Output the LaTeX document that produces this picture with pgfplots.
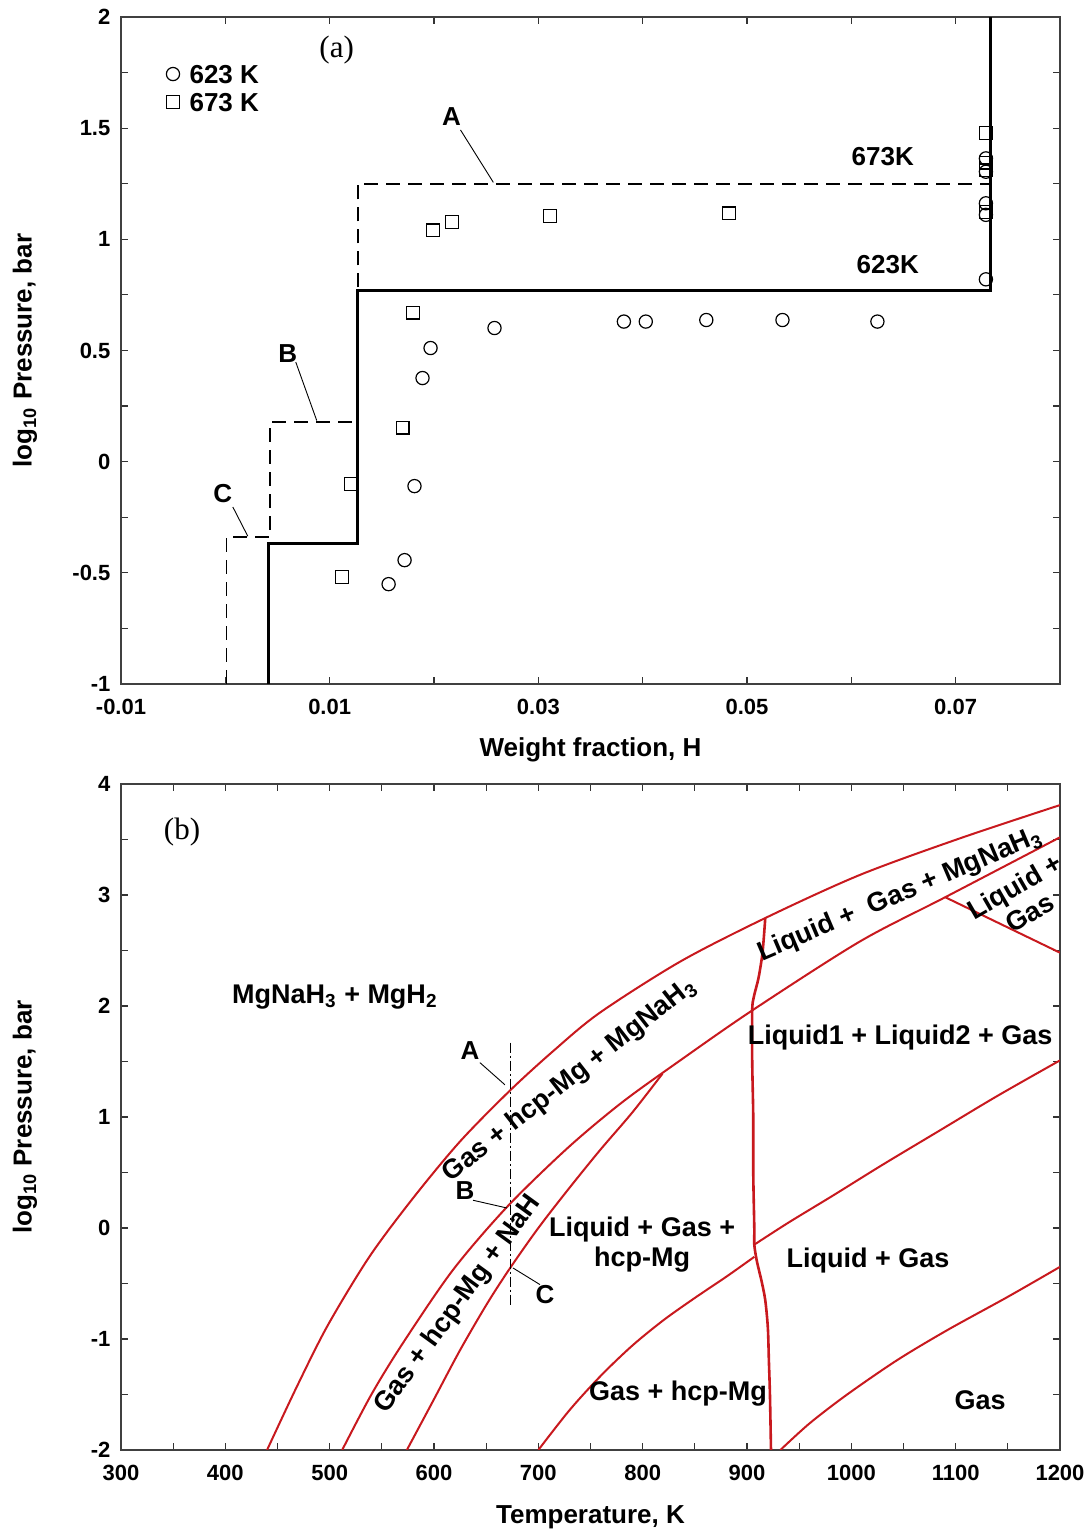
\documentclass[border=0pt]{standalone}
\usepackage{fontspec}
\setmainfont{Liberation Sans}
\newfontfamily\romanfont{Liberation Serif}
\usepackage{pgfplots}
\pgfplotsset{compat=1.18}

\definecolor{phase}{RGB}{200,25,30}

\pgfplotsset{
  panel/.style={
    scale only axis, width=469.5pt, scaled ticks=false,
    tick align=inside, major tick length=3.5pt, minor tick length=3.5pt,
    tick style={black!80, line width=0.6pt},
    axis line style={black!75, line width=0.8pt},
    ticklabel style={font=\bfseries\fontsize{11}{11}\selectfont},
    xticklabel style={anchor=center, yshift=-11.5pt},
    yticklabel style={anchor=east, xshift=-1.8pt},
    label style={font=\bfseries\fontsize{13}{13}\selectfont},
    ylabel style={at={(axis description cs:-0.1022,0.5)}, anchor=center},
  },
  single mark legend/.style={
    legend image code/.code={\draw[##1] plot coordinates {(3.3pt,0pt)};}},
  boundary/.style={phase, line width=1pt, no markers, smooth, tension=0.5},
}
\tikzset{
  region/.style={font=\bfseries\fontsize{13.5}{15}\selectfont, align=center, inner sep=0pt},
  tag/.style={font=\bfseries\fontsize{13}{13}\selectfont, inner sep=0pt},
}

\begin{document}
\begin{tikzpicture}
\useasboundingbox (0,0) rectangle (545pt,767pt);

% ---------------- (a) pressure-composition isotherms ----------------
\begin{axis}[panel, height=333.5pt, at={(60.5pt,425pt)}, anchor=south west,
  xmin=-0.01, xmax=0.08, ymin=-1, ymax=2,
  xtick={-0.01,0.01,0.03,0.05,0.07},
  xticklabels={-0.01,0.01,0.03,0.05,0.07},
  minor xtick={0,0.02,0.04,0.06,0.08},
  ytick={-1,-0.5,0,0.5,1,1.5,2},
  yticklabels={-1,-0.5,0,0.5,1,1.5,2},
  minor ytick={-0.75,-0.25,0.25,0.75,1.25,1.75},
  xlabel={Weight fraction, H},
  xlabel style={at={(axis description cs:0.5,-0.099)}, anchor=center},
  ylabel={log\textsubscript{10} Pressure, bar},
  legend style={at={(axis cs:-0.00565,1.795)}, anchor=north west,
    draw=none, fill=none, inner sep=0pt, outer sep=0pt,
    font=\bfseries\fontsize{13}{13}\selectfont,
    row sep=2.5pt, column sep=4pt,
    nodes={inner sep=1pt, text height=9.5pt, text depth=0pt}},
  legend cell align=left,
]
% calculated isotherms
\addplot[black, line width=1.5pt, forget plot] coordinates {
  (0.00416,-1) (0.00416,-0.366) (0.0127,-0.366) (0.0127,0.772)
  (0.0733,0.772) (0.0733,2)};
\addplot[black, line width=0.8pt, dash pattern=on 7pt off 4pt, forget plot] coordinates {
  (0.0001,-1) (0.0001,-0.339) (0.0043,-0.339) (0.0043,0.178)
  (0.0127,0.178) (0.0127,1.249) (0.0733,1.249)};
% measured points
\addplot[only marks, mark=o, mark size=3.3pt, mark options={black, line width=0.6pt},
  single mark legend] coordinates {
  (0.01565,-0.551) (0.01718,-0.443) (0.01813,-0.110) (0.0189,0.376)
  (0.01967,0.511) (0.0258,0.601) (0.0382,0.630) (0.0403,0.630)
  (0.0461,0.637) (0.0534,0.637) (0.0625,0.630)
  (0.0729,0.820) (0.0729,1.110) (0.0729,1.162) (0.0729,1.304) (0.0729,1.364)};
\addlegendentry{623 K}
\addplot[only marks, mark=square, mark size=3.2pt, mark options={black, line width=0.6pt},
  single mark legend] coordinates {
  (0.0112,-0.519) (0.0120,-0.100) (0.0170,0.153) (0.0180,0.670)
  (0.0199,1.040) (0.0217,1.078) (0.0311,1.105) (0.0483,1.117)
  (0.0729,1.124) (0.0729,1.310) (0.0729,1.345) (0.0729,1.477)};
\addlegendentry{673 K}
% annotations
\node[font=\romanfont\fontsize{15.5}{16}\selectfont, inner sep=0pt] at (axis cs:0.01067,1.852) {(a)};
\node[tag] at (axis cs:0.02167,1.550) {A};
\draw[black, line width=0.45pt] (axis cs:0.02254,1.492) -- (axis cs:0.02569,1.256);
\node[tag] at (axis cs:0.00598,0.484) {B};
\draw[black, line width=0.45pt] (axis cs:0.00675,0.448) -- (axis cs:0.00876,0.185);
\node[tag] at (axis cs:-0.00024,-0.145) {C};
\draw[black, line width=0.45pt] (axis cs:0.00072,-0.204) -- (axis cs:0.00215,-0.335);
\node[tag] at (axis cs:0.06301,1.370) {673K};
\node[tag] at (axis cs:0.06349,0.885) {623K};
\end{axis}

% ---------------- (b) calculated phase diagram ----------------
\begin{axis}[panel, height=333pt, at={(60.5pt,42pt)}, anchor=south west,
  xmin=300, xmax=1200, ymin=-2, ymax=4,
  xtick={300,400,...,1200},
  xticklabels={300,400,500,600,700,800,900,1000,1100,1200},
  minor xtick={350,450,...,1150},
  ytick={-2,-1,...,4},
  yticklabels={-2,-1,0,1,2,3,4},
  minor ytick={-1.5,-0.5,0.5,1.5,2.5,3.5},
  xlabel={Temperature, K},
  xlabel style={at={(axis description cs:0.5,-0.1006)}, anchor=center},
  ylabel={log\textsubscript{10} Pressure, bar},
]
% MgNaH3 + MgH2 boundary
\addplot[boundary] coordinates {
  (440,-2.00) (468,-1.44) (498,-0.88) (538,-0.26) (580,0.27) (625,0.78)
  (673,1.24) (715,1.60) (759,1.94) (836,2.40) (917,2.79) (1008,3.18)
  (1104,3.51) (1200,3.81)};
% lower limit of the MgNaH3 field
\addplot[boundary] coordinates {
  (512,-2.00) (540,-1.50) (570,-1.04) (618,-0.38) (670,0.19) (728,0.72)
  (780,1.13) (836,1.51) (905,1.96) (1008,2.58) (1090,2.98) (1200,3.52)};
% lower limit of the NaH field
\addplot[boundary] coordinates {
  (574,-2.00) (599,-1.56) (625,-1.10) (651,-0.68) (673,-0.36) (700,0.00)
  (728,0.34) (759,0.70) (790,1.04) (819,1.39)};
% hcp-Mg limit, below and above the melting line
\addplot[boundary] coordinates {
  (700,-2.00) (730,-1.64) (760,-1.33) (790,-1.06) (820,-0.83) (850,-0.63)
  (880,-0.44) (907,-0.26)};
\addplot[boundary] coordinates {
  (907,-0.15) (940,0.05) (982,0.29) (1030,0.57) (1085,0.88) (1140,1.19)
  (1200,1.51)};
% liquid / gas limit
\addplot[boundary] coordinates {
  (932,-2.00) (960,-1.76) (996,-1.50) (1044,-1.19) (1092,-0.92) (1150,-0.62)
  (1200,-0.35)};
% melting line
\addplot[boundary, line width=1.3pt] coordinates {
  (917.5,2.79) (916,2.60) (914.5,2.45) (911,2.25) (906.5,2.08) (905,1.96)
  (905,1.50) (906,1.00) (906,0.50) (907,0.00) (907,-0.15) (909.5,-0.30)
  (914,-0.48) (917.5,-0.65) (920,-0.90) (921,-1.20) (922,-1.50) (923,-2.00)};
% liquid + gas branch at high pressure
\addplot[boundary] coordinates {(1090,2.98) (1145,2.73) (1200,2.48)};
% 673 K isotherm
\addplot[black, no markers, line width=0.5pt, dash pattern=on 5pt off 1.5pt on 1pt off 1.5pt]
  coordinates {(673,1.67) (673,-0.71)};
% annotations
\node[font=\romanfont\fontsize{15.5}{16}\selectfont, inner sep=0pt] at (axis cs:358.5,3.568) {(b)};
\node[region] at (axis cs:505,2.08) {MgNaH\textsubscript{3} + MgH\textsubscript{2}};
\node[region, rotate=38] at (axis cs:730,1.33) {Gas + hcp-Mg + MgNaH\textsubscript{3}};
\node[region, rotate=54] at (axis cs:623,-0.69) {Gas + hcp-Mg + NaH};
\node[region, rotate=23] at (axis cs:1046.7,3.00) {Liquid +\ \ Gas + MgNaH\textsubscript{3}};
\node[region, rotate=30] at (axis cs:1163.6,2.96) {Liquid +\\Gas};
\node[region] at (axis cs:1046.7,1.72) {Liquid1 + Liquid2 + Gas};
\node[region] at (axis cs:799.4,-0.15) {Liquid + Gas +\\hcp-Mg};
\node[region] at (axis cs:1016,-0.29) {Liquid + Gas};
\node[region] at (axis cs:833.9,-1.49) {Gas + hcp-Mg};
\node[region] at (axis cs:1123.4,-1.55) {Gas};
\node[tag] at (axis cs:634.5,1.60) {A};
\draw[black, line width=0.45pt] (axis cs:644,1.49) -- (axis cs:668,1.29);
\node[tag] at (axis cs:629.7,0.34) {B};
\draw[black, line width=0.45pt] (axis cs:637.4,0.25) -- (axis cs:670,0.18);
\node[tag] at (axis cs:706.4,-0.60) {C};
\draw[black, line width=0.45pt] (axis cs:675.7,-0.36) -- (axis cs:701.6,-0.51);
\end{axis}
\end{tikzpicture}
\end{document}
